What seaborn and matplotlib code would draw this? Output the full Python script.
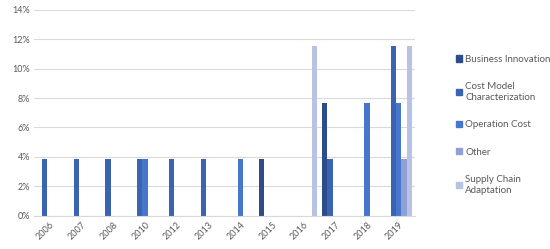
import matplotlib
matplotlib.use('Agg')
import matplotlib.pyplot as plt
import seaborn as sns
import pandas as pd
from matplotlib.ticker import PercentFormatter

# data (share of papers per year and topic)
years = ['2006', '2007', '2008', '2010', '2012', '2013', '2014', '2015', '2016', '2017', '2018', '2019']
topics = ['Business Innovation', 'Cost Model Characterization', 'Operation Cost', 'Other', 'Supply Chain Adaptation']
business_innovation = [0, 0, 0, 0, 0, 0, 0, 0.0385, 0, 0.0769, 0, 0]
cost_model = [0.0385, 0.0385, 0.0385, 0.0385, 0.0385, 0.0385, 0, 0, 0, 0.0385, 0, 0.1154]
operation_cost = [0, 0, 0, 0.0385, 0, 0, 0.0385, 0, 0, 0, 0.0769, 0.0769]
other = [0, 0, 0, 0, 0, 0, 0, 0, 0, 0, 0, 0.0385]
supply_chain = [0, 0, 0, 0, 0, 0, 0, 0, 0.1154, 0, 0, 0.1154]
legend_labels = ['Business Innovation', 'Cost Model\nCharacterization', 'Operation Cost', 'Other', 'Supply Chain\nAdaptation']

colors = ['#2C4D8A', '#3A63B2', '#4677CC', '#8EA0D4', '#B7C2E4']

rows = []
for t, vals in zip(topics, [business_innovation, cost_model, operation_cost, other, supply_chain]):
    for y, v in zip(years, vals):
        rows.append({'Year': y, 'Topic': t, 'Share': v})
df = pd.DataFrame(rows)

sns.set_style('white')
plt.rcParams['font.family'] = ['Lato', 'DejaVu Sans']

fig = plt.figure(figsize=(5.5, 2.49), dpi=100)
ax = fig.add_axes([0.062, 0.134, 0.692, 0.826])

sns.barplot(data=df, x='Year', y='Share', hue='Topic', order=years, hue_order=topics,
            palette=colors, saturation=1, width=0.835, linewidth=0, errorbar=None,
            ax=ax, legend=False)

ax.set_ylim(0, 0.14)
ax.set_yticks([0, 0.02, 0.04, 0.06, 0.08, 0.10, 0.12, 0.14])
ax.yaxis.set_major_formatter(PercentFormatter(1.0, decimals=0))
ax.grid(axis='y', color='#D9D9D9', linewidth=0.8)
ax.set_axisbelow(True)
for s in ['top', 'right', 'left']:
    ax.spines[s].set_visible(False)
ax.spines['bottom'].set_color('#D9D9D9')
ax.spines['bottom'].set_linewidth(0.8)
ax.set_xlabel('')
ax.set_ylabel('')
ax.tick_params(axis='both', length=0, labelsize=6.5, labelcolor='#595959', pad=3)
plt.setp(ax.get_xticklabels(), rotation=45, ha='right', rotation_mode='anchor')

handles = [plt.Rectangle((0, 0), 1, 1, color=c) for c in colors]
fig.legend(handles, legend_labels, loc='upper left', bbox_to_anchor=(0.822, 0.795),
           frameon=False, fontsize=7, labelcolor='#595959', handlelength=0.6,
           handleheight=0.6, handletextpad=0.35, labelspacing=1.9, borderaxespad=0)

fig.savefig('out.png', dpi=100)
